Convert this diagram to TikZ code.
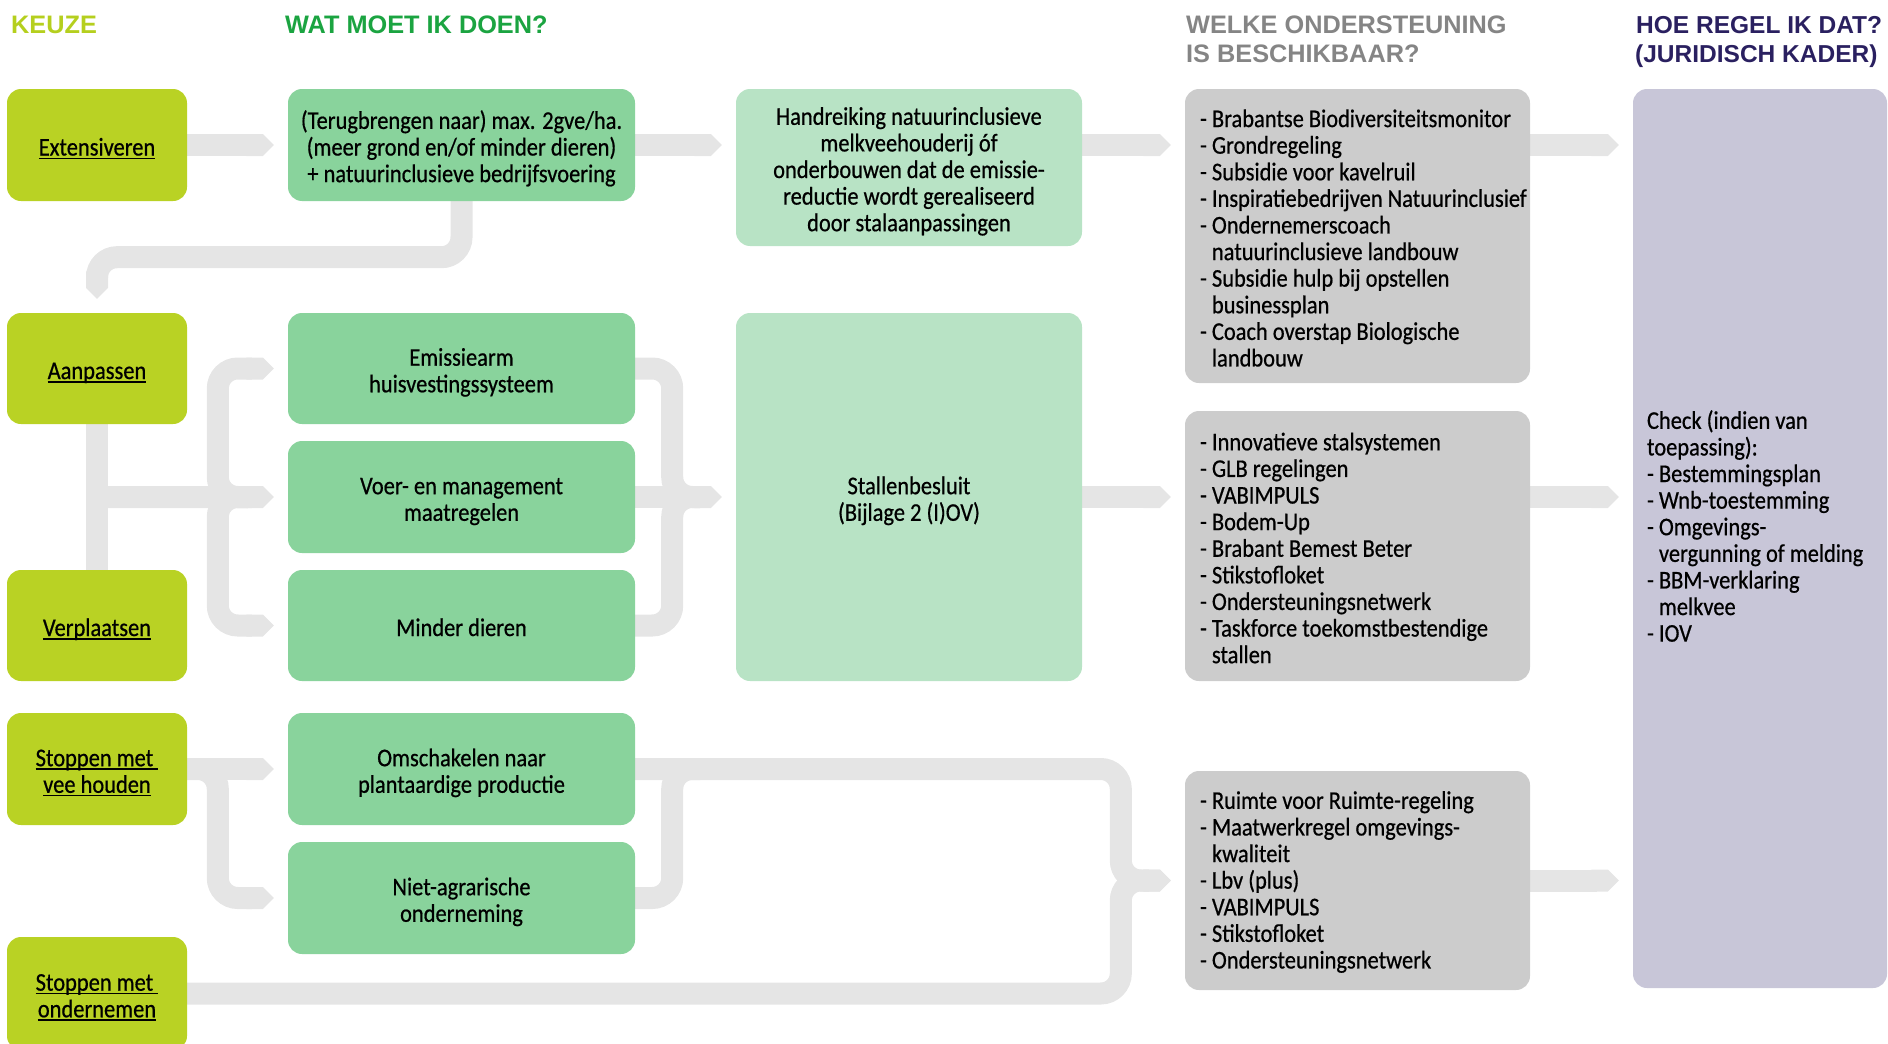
\documentclass[tikz,border=0pt]{standalone}
\usepackage{fontspec}
\setmainfont{Carlito}[FakeStretch=0.88,FakeBold=0.6]
\newfontfamily\hdrfont{Liberation Sans}
\usetikzlibrary{arrows.meta,calc,backgrounds}
\definecolor{cLime}{HTML}{B9D224}
\definecolor{cGreen}{HTML}{89D39C}
\definecolor{cLight}{HTML}{B8E3C5}
\definecolor{cGray}{HTML}{CCCCCC}
\definecolor{cPurple}{HTML}{C8C6D8}
\definecolor{cBand}{HTML}{E5E5E5}
\definecolor{hLime}{HTML}{B5CF1E}
\definecolor{hGreen}{HTML}{1BA441}
\definecolor{hGray}{HTML}{858585}
\definecolor{hPurple}{HTML}{2A2060}
\newcommand\bodyfont{\fontsize{25.5pt}{26.6pt}\selectfont}
\newcommand\myul[1]{\setbox0=\hbox{#1}\rlap{\rule[-3.5pt]{\wd0}{1.4pt}}\box0}
\newcommand\myind{\hphantom{- }}
\newcommand\topstrut{\rule{0pt}{28pt}}
\tikzset{
  bx/.style={rounded corners=14pt, inner sep=0pt, anchor=center, align=center,
    execute at begin node={\rule{0pt}{28pt}},
    execute at end node={\rule[-7pt]{0pt}{7pt}}},
  keuze/.style={bx, fill=cLime, minimum width=180pt},
  doen/.style={bx, fill=cGreen, minimum width=347pt},
  lightbx/.style={bx, fill=cLight, minimum width=346pt},
  graybx/.style={bx, fill=cGray, minimum width=345pt},
  purbx/.style={bx, fill=cPurple},
  listtext/.style={anchor=west, align=left, inner sep=0pt},
  hdr/.style={inner sep=0pt, anchor=base west, font={\hdrfont\bfseries\fontsize{25.3pt}{28pt}\selectfont}},
  conn/.style={line width=22pt, draw=cBand, rounded corners=20pt},
  chev/.style={-{Triangle Cap}},
}
\begin{document}
\begin{tikzpicture}[x=1pt,y=-1pt,font=\bodyfont]
\useasboundingbox (0,0) rectangle (1888,1044);
% headers
\node[hdr, text=hLime] (hk) at (11,33.5) {KEUZE};
\node[hdr, text=hGreen] (hw) at (285,33.5) {WAT MOET IK DOEN?};
\node[hdr, text=hGray] (hs1) at (1186,33.5) {WELKE ONDERSTEUNING};
\node[hdr, text=hGray] (hs2) at (1186,62.5) {IS BESCHIKBAAR?};
\node[hdr, text=hPurple, font={\hdrfont\bfseries\fontsize{24.5pt}{28pt}\selectfont}] (hr1) at (1636,33.5) {HOE REGEL IK DAT?};
\node[hdr, text=hPurple, font={\hdrfont\bfseries\fontsize{24.5pt}{28pt}\selectfont}] (hr2) at (1635,62.5) {(JURIDISCH KADER)};
% keuze column
\node[keuze, minimum height=112pt] (ext) at (97,145) {\myul{Extensiveren}};
\node[keuze, minimum height=111pt] (aan) at (97,368.5) {\myul{Aanpassen}};
\node[keuze, minimum height=111pt] (ver) at (97,625.5) {\myul{Verplaatsen}};
\node[keuze, minimum height=112pt] (svh) at (97,769) {\topstrut\myul{Stoppen met }\\\myul{vee houden}};
\node[keuze, minimum height=113pt] (son) at (97,993.5) {\topstrut\myul{Stoppen met }\\\myul{ondernemen}};
% wat moet ik doen
\node[doen, minimum height=112pt] (trg) at (461.5,145) {\topstrut(Terugbrengen naar) max. 2gve/ha.\\(meer grond en/of minder dieren)\\+ natuurinclusieve bedrijfsvoering};
\node[doen, minimum height=111pt] (emi) at (461.5,368.5) {\topstrut Emissiearm\\huisvestingssysteem};
\node[doen, minimum height=112pt] (voer) at (461.5,497) {\topstrut Voer- en management\\maatregelen};
\node[doen, minimum height=111pt] (mind) at (461.5,625.5) {Minder dieren};
\node[doen, minimum height=112pt] (oms) at (461.5,769) {\topstrut Omschakelen naar\\plantaardige productie};
\node[doen, minimum height=112pt] (nia) at (461.5,898) {\topstrut Niet-agrarische\\onderneming};
% light green
\node[lightbx, minimum height=157pt] (hand) at (909,167.5) {\topstrut Handreiking natuurinclusieve\\melkveehouderij óf\\onderbouwen dat de emissie-\\reductie wordt gerealiseerd\\door stalaanpassingen};
\node[lightbx, minimum height=368pt] (stal) at (909,497) {\topstrut Stallenbesluit\\(Bijlage 2 (I)OV)};
% gray
\node[graybx, minimum height=294pt] (g1) at (1357.5,236) {};
\node[listtext] (g1t) at ($(g1.west)+(15,2)$) {- Brabantse Biodiversiteitsmonitor\\- Grondregeling\\- Subsidie voor kavelruil\\- Inspiratiebedrijven Natuurinclusief\\- Ondernemerscoach\\\myind natuurinclusieve landbouw\\- Subsidie hulp bij opstellen\\\myind businessplan\\- Coach overstap Biologische\\\myind landbouw};
\node[graybx, minimum height=270pt] (g2) at (1357.5,546) {};
\node[listtext] (g2t) at ($(g2.west)+(15,2)$) {- Innovatieve stalsystemen\\- GLB regelingen\\- VABIMPULS\\- Bodem-Up\\- Brabant Bemest Beter\\- Stikstofloket\\- Ondersteuningsnetwerk\\- Taskforce toekomstbestendige\\\myind stallen};
\node[graybx, minimum height=219pt] (g3) at (1357.5,880.5) {};
\node[listtext] (g3t) at ($(g3.west)+(15,1.5)$) {- Ruimte voor Ruimte-regeling\\- Maatwerkregel omgevings-\\\myind kwaliteit\\- Lbv (plus)\\- VABIMPULS\\- Stikstofloket\\- Ondersteuningsnetwerk};
% purple
\node[purbx, minimum width=254pt, minimum height=899pt] (pur) at (1760,538.5) {};
\node[listtext] (purt) at ($(pur.west)+(14,-12.5)$) {Check (indien van\\toepassing):\\- Bestemmingsplan\\- Wnb-toestemming\\- Omgevings-\\\myind vergunning of melding\\- BBM-verklaring\\\myind melkvee\\- IOV};
% connectors
\begin{scope}[on background layer]
\draw[conn,chev] (ext.east) -- ($(trg.west)+(-14,0)$);
\draw[conn,chev] (trg.east) -- ($(trg.east -| hand.west)+(-14,0)$);
\draw[conn,chev] (trg.east -| hand.east) -- ($(trg.east -| g1.west)+(-14,0)$);
\draw[conn,chev] (trg.east -| g1.east) -- ($(trg.east -| pur.west)+(-14,0)$);
\draw[conn,chev] (trg.south) -- ++(0,56) -| ($(aan.north)+(0,-14)$);
\draw[conn] (aan.south) -- (ver.north);
\coordinate (amid) at ($(aan.south)!0.5!(ver.north)$);
\draw[conn,chev] (amid) -- ($(voer.west)+(-14,0)$);
\draw[conn,chev] ($(voer.west)+(-40,0)$) -| ($(emi.west)+(-70,0)$) -- ($(emi.west)+(-14,0)$);
\draw[conn,chev] ($(voer.west)+(-40,0)$) -| ($(mind.west)+(-70,0)$) -- ($(mind.west)+(-14,0)$);
\draw[conn] (emi.east) -| ($(voer.east)+(37,0)$) -- ($(voer.east)+(65,0)$);
\draw[conn] (mind.east) -| ($(voer.east)+(37,0)$) -- ($(voer.east)+(65,0)$);
\draw[conn,chev] (voer.east) -- ($(stal.west)+(-14,0)$);
\draw[conn,chev] (stal.east) -- ($(stal.east -| g2.west)+(-14,0)$);
\draw[conn,chev] (stal.east -| g2.east) -- ($(stal.east -| pur.west)+(-14,0)$);
\draw[conn,chev] (g3.east) -- ($(g3.east -| pur.west)+(-14,0)$);
\draw[conn,chev] (svh.east) -- ($(oms.west)+(-14,0)$);
\draw[conn,chev] (svh.east) -| ($(nia.west)+(-70,0)$) -- ($(nia.west)+(-14,0)$);
\draw[conn] (nia.east) -| ($(oms.east)+(37,0)$) -- ($(oms.east)+(65,0)$);
\draw[conn,chev] (oms.east) -| ($(g3.west)+(-64,0)$) -- ($(g3.west)+(-14,0)$);
\draw[conn,chev] (son.east) -| ($(g3.west)+(-64,0)$) -- ($(g3.west)+(-14,0)$);
\end{scope}
\end{tikzpicture}
\end{document}
